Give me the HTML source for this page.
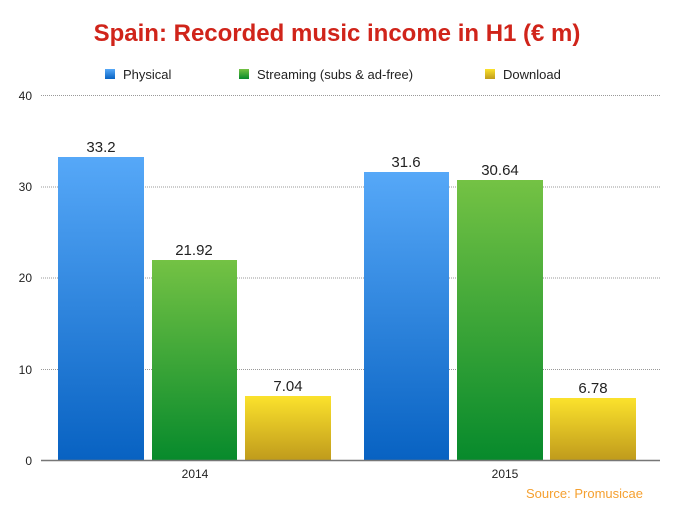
<!DOCTYPE html>
<html><head><style>
body{margin:0;background:#fff;font-family:"Liberation Sans",sans-serif;}
</style></head><body>
<svg width="675" height="503" xmlns="http://www.w3.org/2000/svg" font-family="Liberation Sans, sans-serif">
<defs>
<linearGradient id="b" x1="0" y1="0" x2="0" y2="1"><stop offset="0" stop-color="#56a8f8"/><stop offset="1" stop-color="#0862c2"/></linearGradient>
<linearGradient id="g" x1="0" y1="0" x2="0" y2="1"><stop offset="0" stop-color="#74c244"/><stop offset="1" stop-color="#078a2c"/></linearGradient>
<linearGradient id="y" x1="0" y1="0" x2="0" y2="1"><stop offset="0" stop-color="#fbe22c"/><stop offset="1" stop-color="#c09b1c"/></linearGradient>
</defs>
<text x="337" y="41" text-anchor="middle" font-size="24" font-weight="bold" fill="#d0241a">Spain: Recorded music income in H1 (€ m)</text>
<rect x="105" y="69" width="10" height="10" fill="url(#b)"/><text x="123" y="79" font-size="13" fill="#222">Physical</text>
<rect x="239" y="69" width="10" height="10" fill="url(#g)"/><text x="257" y="79" font-size="13" fill="#222">Streaming (subs &amp; ad-free)</text>
<rect x="485" y="69" width="10" height="10" fill="url(#y)"/><text x="503" y="79" font-size="13" fill="#222">Download</text>
<g stroke="#999" stroke-dasharray="1,1" stroke-width="1">
<line x1="41" y1="95.5" x2="660" y2="95.5"/><line x1="41" y1="187" x2="660" y2="187"/><line x1="41" y1="278" x2="660" y2="278"/><line x1="41" y1="369.5" x2="660" y2="369.5"/>
</g>
<g font-size="12" fill="#222" text-anchor="end">
<text x="32" y="100">40</text><text x="32" y="191">30</text><text x="32" y="282">20</text><text x="32" y="374">10</text><text x="32" y="465">0</text>
</g>
<rect x="58" y="157" width="86" height="303" fill="url(#b)"/>
<rect x="152" y="260" width="85" height="200" fill="url(#g)"/>
<rect x="245" y="396" width="86" height="64" fill="url(#y)"/>
<rect x="364" y="172" width="85" height="288" fill="url(#b)"/>
<rect x="457" y="180" width="86" height="280" fill="url(#g)"/>
<rect x="550" y="398" width="86" height="62" fill="url(#y)"/>
<line x1="41" y1="460.5" x2="660" y2="460.5" stroke="#777" stroke-width="1.5"/>
<g font-size="15" fill="#222" text-anchor="middle">
<text x="101" y="152">33.2</text><text x="194" y="255">21.92</text><text x="288" y="391">7.04</text>
<text x="406" y="167">31.6</text><text x="500" y="175">30.64</text><text x="593" y="393">6.78</text>
</g>
<g font-size="12" fill="#222" text-anchor="middle"><text x="195" y="478">2014</text><text x="505" y="478">2015</text></g>
<text x="643" y="498" text-anchor="end" font-size="13" fill="#f5a030">Source: Promusicae</text>
</svg>
</body></html>
